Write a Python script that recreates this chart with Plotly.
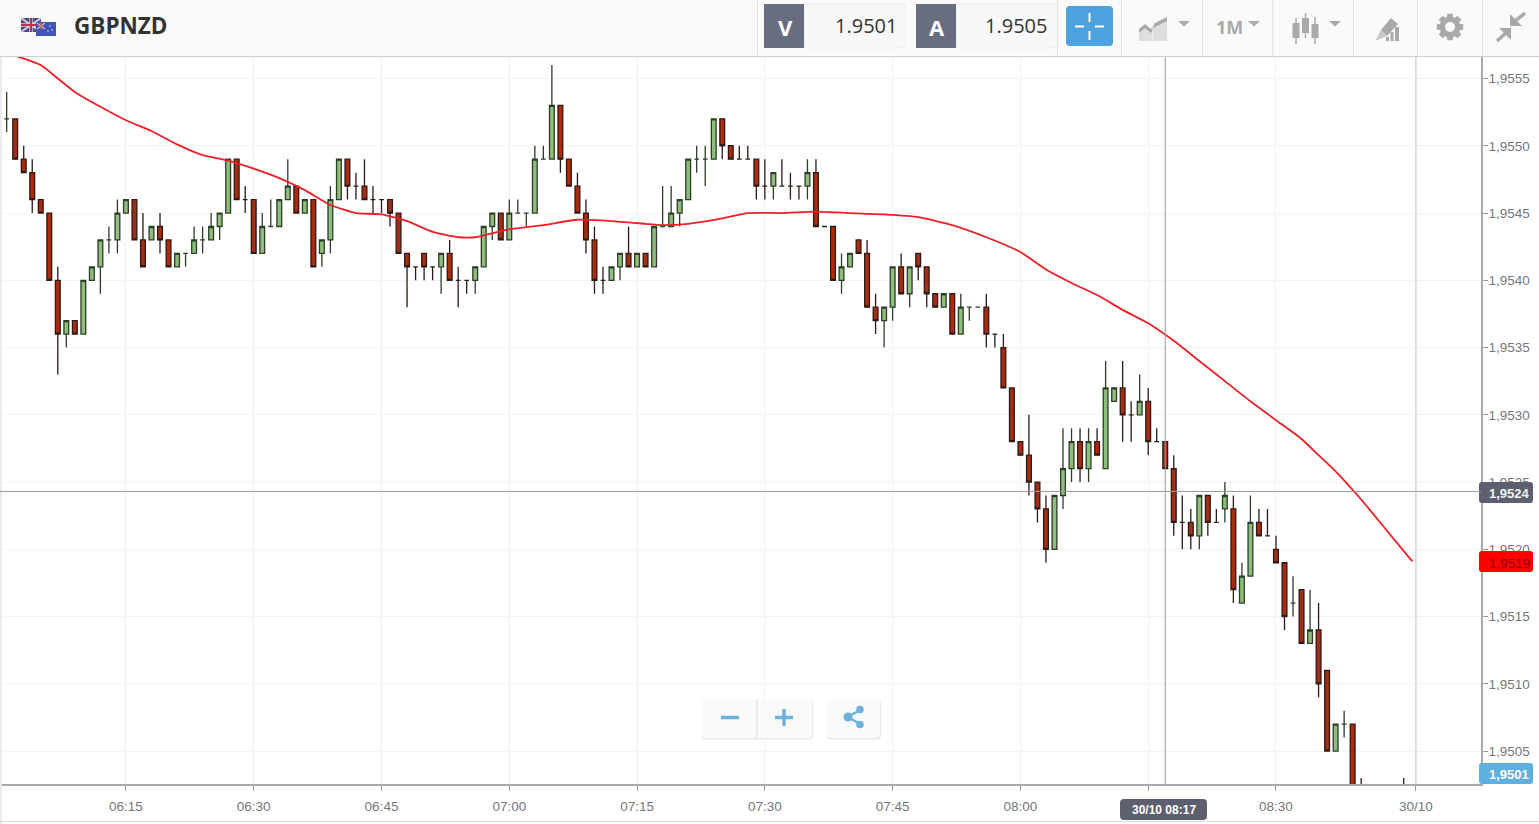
#!/usr/bin/env python3
# -*- coding: utf-8 -*-
"""GBPNZD 1 minute candles with moving average, trading platform look."""
import math
import pandas as pd
import plotly.graph_objects as go

W, H = 1539, 824
PLOT_L, PLOT_R, PLOT_T, PLOT_B = 0, 1481, 57, 784

# prices, in 1/10000
OPEN = [19552, 19552, 19549, 19548, 19546, 19545, 19540, 19536, 19537, 19536,
        19540, 19541, 19543, 19543, 19545, 19546, 19543, 19543, 19544, 19543,
        19541, 19542, 19542, 19543, 19543, 19544, 19545, 19549, 19546, 19546,
        19542, 19544, 19544, 19546, 19547, 19545, 19546, 19542, 19543, 19546,
        19549, 19547, 19547, 19546, 19546, 19546, 19545, 19542, 19541, 19542,
        19541, 19541, 19542, 19540, 19540, 19540, 19541, 19544, 19545, 19543,
        19545, 19545, 19545, 19549, 19549, 19553, 19549, 19547, 19545, 19543,
        19540, 19540, 19541, 19542, 19541, 19542, 19541, 19544, 19544, 19545,
        19546, 19549, 19549, 19549, 19552, 19550, 19549, 19549, 19549, 19547,
        19547, 19547, 19547, 19547, 19547, 19548, 19544, 19544, 19540, 19541,
        19543, 19542, 19538, 19537, 19538, 19541, 19539, 19542, 19541, 19539,
        19538, 19539, 19536, 19538, 19538, 19538, 19536, 19535, 19532, 19528,
        19527, 19525, 19523, 19520, 19524, 19526, 19528, 19526, 19528, 19526,
        19531, 19532, 19530, 19530, 19531, 19528, 19528, 19526, 19522, 19522,
        19521, 19524, 19522, 19523, 19523, 19516, 19518, 19522, 19521, 19520,
        19519, 19516, 19517, 19513, 19514, 19511, 19505, 19507, 19507, 19501,
        19501]
HIGH = [19554, 19552, 19550, 19549, 19546, 19545, 19541, 19537, 19537, 19540,
        19541, 19543, 19544, 19546, 19546, 19546, 19545, 19544, 19545, 19543,
        19542, 19542, 19544, 19544, 19545, 19545, 19549, 19549, 19547, 19546,
        19545, 19546, 19546, 19549, 19547, 19546, 19546, 19543, 19547, 19549,
        19549, 19548, 19549, 19547, 19546, 19546, 19545, 19542, 19541, 19542,
        19541, 19542, 19543, 19541, 19540, 19541, 19544, 19545, 19545, 19546,
        19546, 19545, 19550, 19550, 19556, 19553, 19549, 19548, 19546, 19544,
        19541, 19541, 19542, 19544, 19542, 19542, 19544, 19547, 19547, 19546,
        19549, 19550, 19550, 19552, 19552, 19550, 19550, 19550, 19549, 19549,
        19548, 19549, 19548, 19547, 19549, 19549, 19544, 19544, 19542, 19542,
        19543, 19543, 19539, 19538, 19541, 19542, 19541, 19542, 19541, 19539,
        19539, 19539, 19539, 19538, 19538, 19539, 19536, 19536, 19532, 19528,
        19530, 19525, 19524, 19524, 19529, 19529, 19529, 19529, 19529, 19534,
        19532, 19534, 19531, 19533, 19532, 19529, 19528, 19527, 19524, 19523,
        19524, 19524, 19523, 19525, 19524, 19519, 19524, 19523, 19523, 19521,
        19519, 19518, 19517, 19517, 19516, 19511, 19507, 19508, 19507, 19503,
        19503]
LOW = [19551, 19549, 19548, 19545, 19545, 19540, 19533, 19535, 19536, 19536,
       19540, 19539, 19542, 19542, 19545, 19543, 19541, 19543, 19542, 19541,
       19541, 19541, 19542, 19542, 19543, 19543, 19545, 19546, 19545, 19542,
       19542, 19544, 19544, 19546, 19545, 19545, 19541, 19541, 19542, 19546,
       19546, 19546, 19546, 19545, 19545, 19544, 19542, 19538, 19540, 19540,
       19540, 19539, 19540, 19538, 19539, 19539, 19541, 19543, 19543, 19543,
       19545, 19544, 19545, 19549, 19549, 19548, 19547, 19545, 19542, 19539,
       19539, 19540, 19540, 19541, 19541, 19541, 19541, 19544, 19544, 19544,
       19546, 19548, 19547, 19549, 19549, 19549, 19549, 19549, 19546, 19546,
       19546, 19547, 19546, 19546, 19546, 19544, 19544, 19540, 19539, 19541,
       19542, 19538, 19536, 19535, 19537, 19539, 19538, 19540, 19538, 19538,
       19538, 19536, 19536, 19537, 19538, 19535, 19535, 19532, 19528, 19527,
       19524, 19522, 19519, 19520, 19523, 19525, 19525, 19525, 19527, 19526,
       19531, 19528, 19528, 19530, 19527, 19528, 19526, 19521, 19520, 19520,
       19520, 19521, 19522, 19522, 19516, 19516, 19518, 19521, 19521, 19519,
       19514, 19515, 19513, 19513, 19509, 19505, 19505, 19506, 19502, 19500,
       19500]
CLOSE = [19552, 19549, 19548, 19546, 19545, 19540, 19536, 19537, 19536, 19540,
         19541, 19543, 19543, 19545, 19546, 19543, 19541, 19544, 19543, 19541,
         19542, 19542, 19543, 19543, 19544, 19545, 19549, 19546, 19546, 19542,
         19544, 19544, 19546, 19547, 19545, 19546, 19541, 19543, 19546, 19549,
         19547, 19547, 19546, 19546, 19546, 19545, 19542, 19541, 19541, 19541,
         19541, 19542, 19540, 19540, 19540, 19541, 19544, 19545, 19543, 19545,
         19545, 19545, 19549, 19549, 19553, 19549, 19547, 19545, 19543, 19540,
         19540, 19541, 19542, 19541, 19542, 19541, 19544, 19544, 19545, 19546,
         19549, 19549, 19549, 19552, 19550, 19549, 19549, 19549, 19547, 19547,
         19548, 19547, 19547, 19547, 19548, 19544, 19544, 19540, 19541, 19542,
         19542, 19538, 19537, 19538, 19541, 19539, 19541, 19541, 19539, 19538,
         19539, 19536, 19538, 19538, 19538, 19536, 19536, 19532, 19528, 19527,
         19525, 19523, 19520, 19524, 19526, 19528, 19526, 19528, 19527, 19532,
         19532, 19530, 19530, 19531, 19528, 19528, 19526, 19522, 19522, 19521,
         19524, 19522, 19522, 19524, 19517, 19518, 19522, 19521, 19521, 19519,
         19515, 19516, 19513, 19514, 19510, 19505, 19507, 19507, 19502, 19501,
         19501]
# one bar a minute from 06:01, the bars after 08:40 sit under the axis except 08:45
BAR_TIMES = list(pd.date_range("2017-10-30 06:01", "2017-10-30 08:40", freq="min")) + [pd.Timestamp("2017-10-30 08:45")]

# moving average, minutes after 06:00 and price
MA_MINUTES = [2, 5, 7, 9, 12, 15, 18, 21, 24, 27, 30, 33, 36, 39, 42, 45, 48, 51, 54, 56,
              60, 64, 68, 72, 76, 78, 81, 85, 88, 92, 96, 100, 104, 108, 112, 116, 120,
              123, 126, 129, 132, 135, 138, 141, 144, 147, 150, 153, 155, 157, 160, 163, 166]
MA_VALUES = [1.95567, 1.95560, 1.95550, 1.95540, 1.95529, 1.95519, 1.95511, 1.95501,
             1.95493, 1.95489, 1.95483, 1.95476, 1.95467, 1.95456, 1.95450, 1.95449,
             1.95444, 1.95436, 1.95432, 1.95432, 1.95438, 1.95441, 1.95445, 1.95444,
             1.95442, 1.95441, 1.95442, 1.95446, 1.95450, 1.95450, 1.95451, 1.95450,
             1.95449, 1.95447, 1.95441, 1.95432, 1.95421, 1.95408, 1.95398, 1.95389,
             1.95378, 1.95368, 1.95355, 1.95340, 1.95325, 1.95310, 1.95296, 1.95282,
             1.95270, 1.95258, 1.95237, 1.95214, 1.95191]

Y_TICKS = [1.9505, 1.9510, 1.9515, 1.9520, 1.9525, 1.9530, 1.9535, 1.9540, 1.9545, 1.9550, 1.9555]
X_TICKS = ["06:15", "06:30", "06:45", "07:00", "07:15", "07:30", "07:45", "08:00", "08:15", "08:30", "08:46:26"]
# 08:15 sits hidden behind the crosshair time tag
X_LABELS = ["06:15", "06:30", "06:45", "07:00", "07:15", "07:30", "07:45", "08:00", "", "08:30", "30/10"]

DAY = "2017-10-30 "
CROSS_TIME = DAY + "08:17"
CROSS_PRICE = 1.95243
DATE_LINE = DAY + "08:46:26"

HEADER = "#fafafa"
ICON = "#a9a9a9"
SLATE = "#696d80"
TAG = "#5c5f6e"
BLUE = "#6fb0dc"
AXIS_FONT = dict(family="Liberation Sans", size=13.5, color="#777777")


def px(x):
    return x / W


def py(y):
    return 1 - y / H


def rect(x0, y0, x1, y1, fill, line=None, layer="above"):
    return dict(type="rect", xref="paper", yref="paper", x0=px(x0), x1=px(x1), y0=py(y0), y1=py(y1),
                fillcolor=fill, line=dict(color=line or fill, width=1 if line else 0), layer=layer)


def seg(x0, y0, x1, y1, color, width=1):
    return dict(type="line", xref="paper", yref="paper", x0=px(x0), x1=px(x1), y0=py(y0), y1=py(y1),
                line=dict(color=color, width=width), layer="above")


def poly(points, fill, line=None, width=0):
    d = "M " + " L ".join(f"{px(x):.5f},{py(y):.5f}" for x, y in points) + " Z"
    return dict(type="path", xref="paper", yref="paper", path=d, fillcolor=fill,
                line=dict(color=line or fill, width=width), layer="above")


def round_box(x0, y0, x1, y1, fill, r=3, line=None):
    d = (f"M {px(x0 + r):.5f},{py(y0):.5f} L {px(x1 - r):.5f},{py(y0):.5f} "
         f"Q {px(x1):.5f},{py(y0):.5f} {px(x1):.5f},{py(y0 + r):.5f} "
         f"L {px(x1):.5f},{py(y1 - r):.5f} Q {px(x1):.5f},{py(y1):.5f} {px(x1 - r):.5f},{py(y1):.5f} "
         f"L {px(x0 + r):.5f},{py(y1):.5f} Q {px(x0):.5f},{py(y1):.5f} {px(x0):.5f},{py(y1 - r):.5f} "
         f"L {px(x0):.5f},{py(y0 + r):.5f} Q {px(x0):.5f},{py(y0):.5f} {px(x0 + r):.5f},{py(y0):.5f} Z")
    return dict(type="path", xref="paper", yref="paper", path=d, fillcolor=fill,
                line=dict(color=line or fill, width=1 if line else 0), layer="above")


def circle(cx, cy, r, fill):
    return dict(type="circle", xref="paper", yref="paper", x0=px(cx - r), x1=px(cx + r), y0=py(cy - r), y1=py(cy + r),
                fillcolor=fill, line=dict(color=fill, width=0), layer="above")


def note(x, y, text, size, color, anchor="center", family="Open Sans"):
    return dict(xref="paper", yref="paper", x=px(x), y=py(y), text=text, showarrow=False, xanchor=anchor,
                yanchor="middle", font=dict(family=family, size=size, color=color), borderpad=0)


def header_shapes():
    s = [rect(0, 0, W, 56, HEADER), seg(0, 56.5, W, 56.5, "#cfcfcf", 1)]
    # flags
    s += [rect(21, 18, 41, 32, "#4a4a80"), seg(21, 18, 41, 32, "#d8d0dc", 2), seg(41, 18, 21, 32, "#d8d0dc", 2),
          seg(31, 18, 31, 32, "#d8d0dc", 3.5), seg(21, 25, 41, 25, "#d8d0dc", 3.5),
          seg(31, 18, 31, 32, "#c03048", 2), seg(21, 25, 41, 25, "#c03048", 2)]
    s += [rect(36, 22, 56, 36, "#3f55b8"), rect(37, 23, 45, 29, "#5a5f9c"),
          seg(37, 23, 45, 29, "#e6dfe6", 1), seg(45, 23, 37, 29, "#e6dfe6", 1), seg(41, 23, 41, 29, "#d85a6a", 1.5),
          circle(50, 26, 0.8, "#f0e0e0"), circle(52, 30, 0.8, "#f0e0e0"), circle(48, 31, 0.8, "#f0e0e0")]
    # bid and ask
    s += [round_box(804, 4, 905, 48, "#f8f8f8", 3, "#eeeeee"), rect(764, 4, 804, 48, SLATE),
          round_box(956, 4, 1057, 48, "#f8f8f8", 3, "#eeeeee"), rect(916, 4, 956, 48, SLATE)]
    # crosshair button
    s += [round_box(1066, 6, 1113, 46, "#4da2de", 4),
          seg(1089.5, 13, 1089.5, 22, "white", 2), seg(1089.5, 31, 1089.5, 40, "white", 2),
          seg(1075, 26.5, 1084, 26.5, "white", 2), seg(1095, 26.5, 1104, 26.5, "white", 2)]
    for x in [757.5, 1057.5, 1121.5, 1202.5, 1272.5, 1353.5, 1417.5, 1482.5]:
        s.append(seg(x, 0, x, 56, "#e4e4e4", 1))
    # area chart icon
    s += [poly([(1139, 41), (1139, 31), (1145, 26), (1151, 31), (1155, 25), (1167, 20), (1167, 41)], "#dedede"),
          poly([(1139, 29), (1145, 24), (1151, 29), (1155, 23), (1167, 17), (1167, 21), (1155, 27), (1151, 33), (1145, 28), (1139, 33)], ICON),
          seg(1153, 17, 1153, 42, "#f4f4f4", 1)]
    for x in [1184, 1254, 1335]:
        s.append(poly([(x - 6, 21), (x + 6, 21), (x, 26.5)], ICON))
    # candle icon
    for x, top, y0, y1, bot in [(1296, 18, 23, 38, 44), (1305.5, 13, 18, 33, 38), (1315, 17, 24, 38, 44)]:
        s += [seg(x, top, x, bot, ICON, 1.5), rect(x - 3.5, y0, x + 3.5, y1, ICON)]
    # drawing icon
    s += [poly([(1381, 30), (1391, 18), (1398, 24), (1387, 36)], ICON),
          poly([(1381, 30), (1387, 36), (1375, 41)], "#c8c8c8"),
          rect(1386, 37, 1389, 41, ICON), rect(1390.5, 32, 1393.5, 41, ICON), rect(1395, 27, 1399, 41, ICON)]
    # gear
    gear = []
    for i in range(8):
        a = i * math.pi / 4
        for da, r in [(-0.30, 10.5), (-0.20, 13.5), (0.20, 13.5), (0.30, 10.5)]:
            gear.append((1450 + r * math.cos(a + da), 27 + r * math.sin(a + da)))
    s += [poly(gear, ICON), circle(1450, 27, 5, HEADER)]
    # compress arrows
    s += [poly([(1510, 14), (1510, 26), (1522, 26)], ICON), seg(1514, 22, 1525, 13, ICON, 3.5),
          poly([(1511, 28), (1499, 28), (1511, 40)], ICON), seg(1507, 32, 1497, 41, ICON, 3.5)]
    return s


def chart_furniture():
    s = [rect(0, 57, 2, H, "#ececec"), seg(0, 821.5, W, 821.5, "#dddddd", 1)]
    # zoom and share buttons
    s += [round_box(702, 700, 813, 739.5, "#e9e9e9", 4), round_box(702, 699, 812, 738, "#fafafa", 4),
          seg(757, 699, 757, 738, "#dcdcdc", 1),
          seg(721, 717.5, 739, 717.5, BLUE, 3.5), seg(775, 717.5, 793, 717.5, BLUE, 3.5), seg(784, 709, 784, 726, BLUE, 3.5),
          round_box(826, 700, 881, 739.5, "#e9e9e9", 4), round_box(826, 699, 880, 738, "#fafafa", 4),
          seg(848, 717, 860, 710, BLUE, 2.5), seg(848, 717, 860, 724, BLUE, 2.5),
          circle(848, 717, 4.5, BLUE), circle(860, 709.5, 3.8, BLUE), circle(860, 724.5, 3.8, BLUE)]
    # price and time tags
    s += [round_box(1479, 482, 1533, 503, TAG, 3), round_box(1479, 551, 1533, 572, "#ff0000", 3),
          round_box(1479, 763, 1533, 784, "#5fb0e0", 3), round_box(1120, 799, 1207, 820, TAG, 4)]
    # crosshair and day line
    s += [dict(type="line", xref="x", yref="y domain", x0=CROSS_TIME, x1=CROSS_TIME, y0=0, y1=1,
               line=dict(color="#9a9a9a", width=1), layer="above"),
          dict(type="line", xref="x domain", yref="y", x0=0, x1=1, y0=CROSS_PRICE, y1=CROSS_PRICE,
               line=dict(color="#9a9a9a", width=1), layer="above"),
          dict(type="line", xref="x", yref="y domain", x0=DATE_LINE, x1=DATE_LINE, y0=0, y1=1,
               line=dict(color="#c4c4c4", width=1), layer="above")]
    return s


fig = go.Figure()

fig.add_trace(go.Candlestick(
    x=BAR_TIMES,
    open=[v / 10000 for v in OPEN],
    high=[v / 10000 for v in HIGH],
    low=[v / 10000 for v in LOW],
    close=[v / 10000 for v in CLOSE],
    whiskerwidth=0,
    increasing=dict(fillcolor="#8fbe7c", line=dict(color="#2c3d28", width=1.3)),
    decreasing=dict(fillcolor="#aa2c10", line=dict(color="#2c1a14", width=1.3)),
    showlegend=False,
    hoverinfo="skip",
))

ma_times = [pd.Timestamp(DAY + "06:00") + pd.Timedelta(minutes=m) for m in MA_MINUTES]
fig.add_trace(go.Scatter(
    x=ma_times,
    y=MA_VALUES,
    mode="lines",
    line=dict(color="#ee2027", width=1.8, shape="spline", smoothing=0.5),
    showlegend=False,
    hoverinfo="skip",
))

fig.update_layout(
    width=W,
    height=H,
    margin=dict(l=0, r=0, t=0, b=0),
    paper_bgcolor="white",
    plot_bgcolor="white",
    separators=",.",
    showlegend=False,
    boxgap=0.2,
    shapes=header_shapes() + chart_furniture(),
    annotations=[
        note(73, 26, "<b>GBPNZD</b>", 22.5, "#333333", "left"),
        note(785, 27, "<b>V</b>", 22, "white"),
        note(937, 27, "<b>A</b>", 22, "white"),
        note(898, 25, "1.9501", 20, "#333333", "right"),
        note(1048, 25, "1.9505", 20, "#333333", "right"),
        note(1229, 27, "<b>1M</b>", 18, ICON),
        note(1509, 494, "<b>1,9524</b>", 13, "#f4f4f4", family="Liberation Sans"),
        note(1509, 563, "1,9519", 13.5, "#8a0000", family="Liberation Sans"),
        note(1509, 774, "<b>1,9501</b>", 13, "white", family="Liberation Sans"),
        note(1163.5, 810, "<b>30/10 08:17</b>", 12, "white", family="Liberation Sans"),
    ],
    xaxis=dict(
        domain=[PLOT_L / W, PLOT_R / W],
        type="date",
        range=[DAY + "06:00:13", DAY + "08:54:04"],
        rangeslider=dict(visible=False),
        tickmode="array",
        tickvals=[DAY + t for t in X_TICKS],
        ticktext=X_LABELS,
        ticks="outside",
        ticklen=5,
        tickcolor="#999999",
        ticklabelstandoff=4,
        tickfont=AXIS_FONT,
        showgrid=True,
        gridcolor="#f1f1f1",
        gridwidth=1,
        showline=True,
        linecolor="#aaaaaa",
        linewidth=1.5,
        zeroline=False,
    ),
    yaxis=dict(
        domain=[1 - PLOT_B / H, 1 - PLOT_T / H],
        range=[1.950255, 1.95566],
        side="right",
        tickmode="array",
        tickvals=Y_TICKS,
        tickformat=".4f",
        ticks="outside",
        ticklen=5,
        tickcolor="#999999",
        tickfont=AXIS_FONT,
        ticklabelstandoff=-2,
        showgrid=True,
        gridcolor="#f4f4f4",
        gridwidth=1,
        showline=True,
        linecolor="#aaaaaa",
        linewidth=1.5,
        zeroline=False,
    ),
)

fig.write_html("out.html", config=dict(displayModeBar=False),
               post_script="document.body.style.margin='0';document.body.style.overflow='hidden';")
